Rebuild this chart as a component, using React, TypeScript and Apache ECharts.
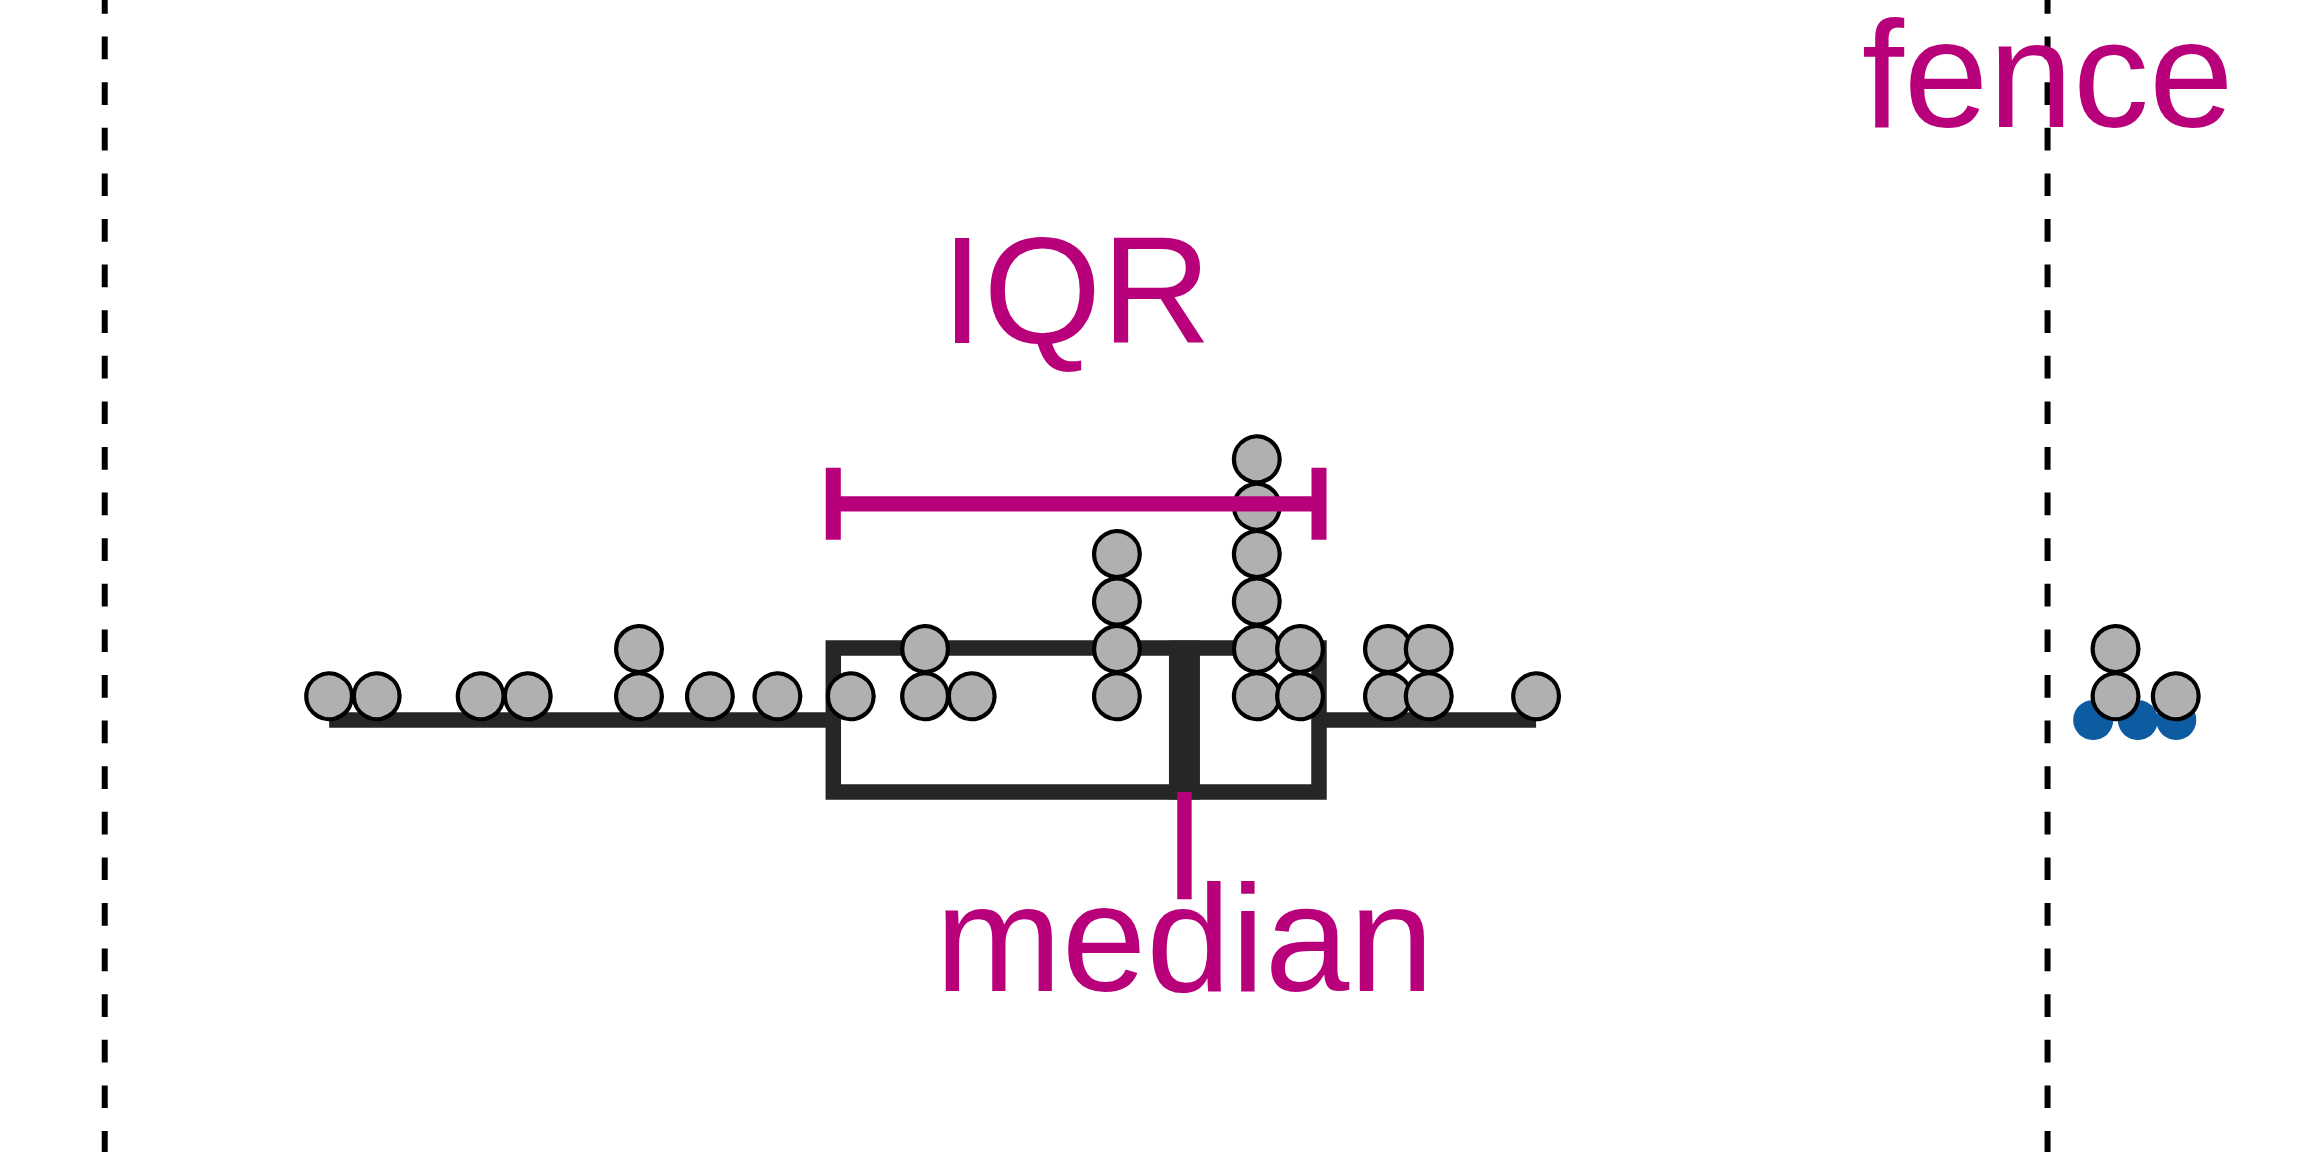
import React, { useEffect, useRef } from "react";
import * as echarts from "echarts";

// ---- data (x in data units) ----
const dotValues = [
  9.62, 10.6, 12.74, 13.71, 16.0, 16.0, 17.46, 18.85, 20.36, 21.89, 21.89, 22.85,
  25.84, 25.84, 25.84, 25.84,
  28.72, 28.72, 28.72, 28.72, 28.72, 28.72,
  29.61, 29.61, 31.42, 31.42, 32.26, 32.26, 34.47,
  46.4, 46.4, 47.64,
];
const outlierValues = [45.94, 46.86, 47.65];
// min, Q1, median, Q3, max (whisker ends)
const boxStats = [9.62, 20, 27.23, 30, 34.47];
const fenceValues = [5, 45];
const labelTexts = ["IQR", "median", "fence"];

// ---- layout / style constants ----
const X_MIN = 3;
const X_MAX = 50;
const Y_MIN = -9;
const Y_MAX = 15;
const BOX_HALF = 1.52;
const IQR_LEVEL = 4.56;
const IQR_CAP_PX = 36;
const MEDIAN_TICK_END = -3.78;
const LABEL_LEVELS = [9.08, -4.6, 13.62];
const MAGENTA = "#B9007B";
const DARK = "#262626";
const GREY = "#B0B0B0";
const BLUE = "#0D5BA1";
const FONT = '"Liberation Sans", Arial, Helvetica, sans-serif';

export default function App() {
  const ref = useRef<HTMLDivElement>(null);

  useEffect(() => {
    if (!ref.current) return;
    const chart = echarts.init(ref.current, undefined, { renderer: "svg" });

    const counts: Record<string, number> = {};
    const dotData = dotValues.map((v) => {
      const k = String(v);
      counts[k] = (counts[k] || 0) + 1;
      return [v, counts[k] - 0.5];
    });
    const outlierData = outlierValues.map((v) => [v, 0]);

    const [mn, q1, md, q3, mx] = boxStats;
    const labelX = [(q1 + q3) / 2, md, fenceValues[1]];
    const labelData = labelTexts.map((t, i) => [labelX[i], LABEL_LEVELS[i]]);

    const option: any = {
      animation: false,
      backgroundColor: "#ffffff",
      grid: { left: 7.6, right: 13.6, top: 9, bottom: 5.4, containLabel: false },
      xAxis: {
        type: "value",
        min: X_MIN,
        max: X_MAX,
        show: false,
        splitLine: { show: false },
      },
      yAxis: {
        type: "value",
        min: Y_MIN,
        max: Y_MAX,
        show: false,
        splitLine: { show: false },
      },
      series: [
        {
          type: "custom",
          name: "fences",
          z: 1,
          silent: true,
          data: fenceValues.map((v) => [v, 0]),
          renderItem: (params: any, api: any) => {
            const x = api.coord([api.value(0), 0])[0];
            return {
              type: "line",
              shape: { x1: x, y1: 0, x2: x, y2: api.getHeight() },
              style: {
                stroke: "#000000",
                lineWidth: 6,
                lineDash: [22.7, 22.9],
                lineDashOffset: 8.7,
                lineCap: "butt",
              },
            };
          },
        },
        {
          type: "custom",
          name: "box",
          z: 2,
          silent: true,
          data: [boxStats],
          renderItem: (params: any, api: any) => {
            const pMin = api.coord([api.value(0), 0]);
            const pQ1 = api.coord([api.value(1), 0]);
            const pMd = api.coord([api.value(2), 0]);
            const pQ3 = api.coord([api.value(3), 0]);
            const pMax = api.coord([api.value(4), 0]);
            const top = api.coord([api.value(1), BOX_HALF])[1];
            const bot = api.coord([api.value(1), -BOX_HALF])[1];
            return {
              type: "group",
              children: [
                {
                  type: "line",
                  shape: { x1: pMin[0], y1: pMin[1], x2: pQ1[0], y2: pQ1[1] },
                  style: { stroke: DARK, lineWidth: 15.5 },
                },
                {
                  type: "line",
                  shape: { x1: pQ3[0], y1: pQ3[1], x2: pMax[0], y2: pMax[1] },
                  style: { stroke: DARK, lineWidth: 15.5 },
                },
                {
                  type: "rect",
                  shape: { x: pQ1[0], y: top, width: pQ3[0] - pQ1[0], height: bot - top },
                  style: { fill: "none", stroke: DARK, lineWidth: 15.5 },
                },
                {
                  type: "line",
                  shape: { x1: pMd[0], y1: top - 7.5, x2: pMd[0], y2: bot + 7.5 },
                  style: { stroke: DARK, lineWidth: 31 },
                },
              ],
            };
          },
        },
        {
          type: "scatter",
          name: "outliers",
          z: 3,
          silent: true,
          symbol: "circle",
          symbolSize: 40,
          itemStyle: { color: BLUE, opacity: 1 },
          data: outlierData,
        },
        {
          type: "scatter",
          name: "dots",
          z: 4,
          silent: true,
          symbol: "circle",
          symbolSize: 45.8,
          itemStyle: { color: GREY, borderColor: "#000000", borderWidth: 4.2, opacity: 1 },
          data: dotData,
        },
        {
          type: "custom",
          name: "annotations",
          z: 5,
          silent: true,
          data: [[q1, q3, md]],
          renderItem: (params: any, api: any) => {
            const a = api.coord([api.value(0), IQR_LEVEL]);
            const b = api.coord([api.value(1), IQR_LEVEL]);
            const m0 = api.coord([api.value(2), -BOX_HALF]);
            const m1 = api.coord([api.value(2), MEDIAN_TICK_END]);
            return {
              type: "group",
              children: [
                {
                  type: "line",
                  shape: { x1: a[0], y1: a[1], x2: b[0], y2: b[1] },
                  style: { stroke: MAGENTA, lineWidth: 15.3 },
                },
                {
                  type: "line",
                  shape: { x1: a[0], y1: a[1] - IQR_CAP_PX, x2: a[0], y2: a[1] + IQR_CAP_PX },
                  style: { stroke: MAGENTA, lineWidth: 15 },
                },
                {
                  type: "line",
                  shape: { x1: b[0], y1: b[1] - IQR_CAP_PX, x2: b[0], y2: b[1] + IQR_CAP_PX },
                  style: { stroke: MAGENTA, lineWidth: 15 },
                },
                {
                  type: "line",
                  shape: { x1: m0[0], y1: m0[1], x2: m1[0], y2: m1[1] },
                  style: { stroke: MAGENTA, lineWidth: 14.4 },
                },
              ],
            };
          },
        },
        {
          type: "custom",
          name: "labels",
          z: 6,
          silent: true,
          data: labelData,
          renderItem: (params: any, api: any) => {
            const p = api.coord([api.value(0), api.value(1)]);
            return {
              type: "text",
              x: p[0],
              y: p[1],
              style: {
                text: labelTexts[params.dataIndex],
                fill: MAGENTA,
                fontSize: 152,
                lineHeight: 130,
                fontFamily: FONT,
                align: "center",
                verticalAlign: "middle",
              },
            };
          },
        },
      ],
    };

    chart.setOption(option);
    return () => chart.dispose();
  }, []);

  return (
    <div
      ref={ref}
      style={{ position: "fixed", left: 0, top: 0, width: 2304, height: 1152, background: "#ffffff" }}
    />
  );
}
